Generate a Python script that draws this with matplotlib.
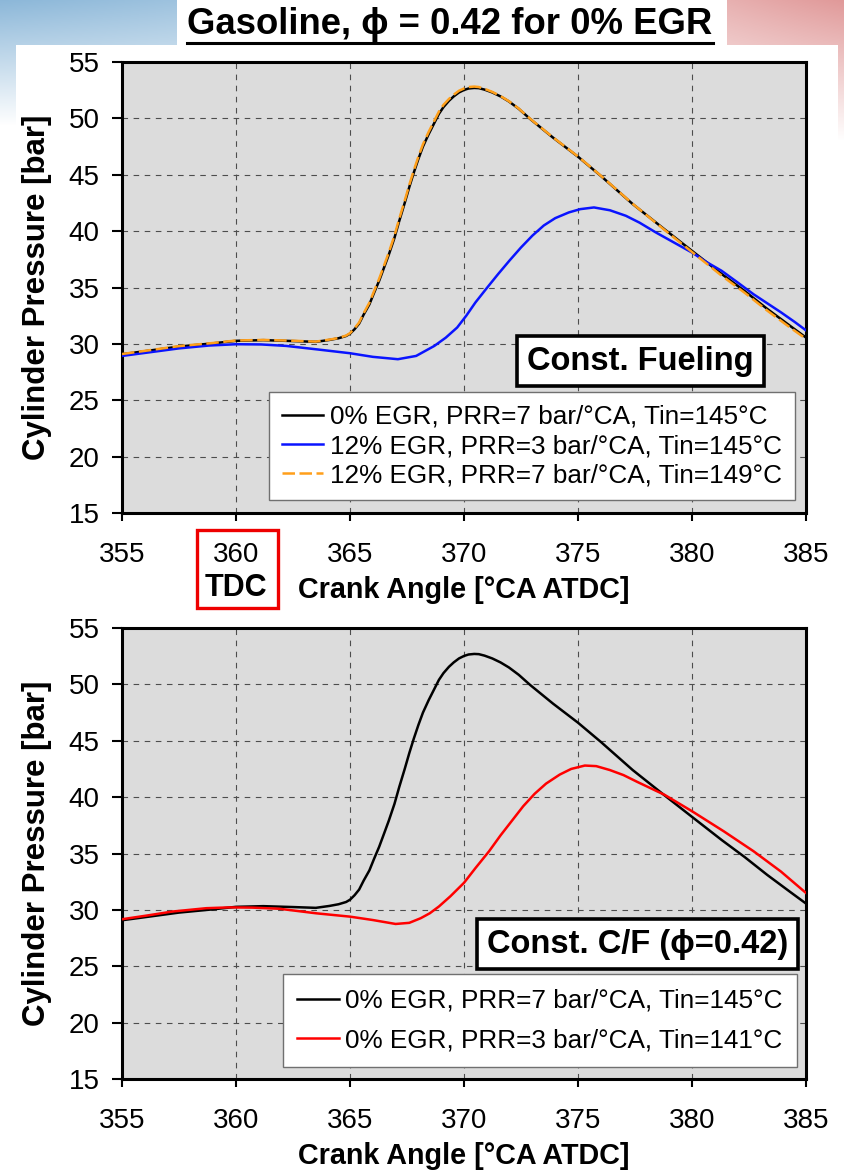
import numpy as np
import matplotlib
matplotlib.use('Agg')
import matplotlib.pyplot as plt
from matplotlib.patches import Rectangle
from matplotlib.lines import Line2D

plt.rcParams['font.family'] = ['Liberation Sans', 'DejaVu Sans']

# ---- data (crank angle [deg], pressure [bar]) ----
ca_base = [355.0, 356.0, 357.5, 359.0, 360.0, 361.2, 362.5, 363.5, 364.1, 364.5,
           364.83, 365.0, 365.2, 365.4, 365.6, 365.85, 366.05, 366.28, 366.5, 366.7,
           366.95, 367.16, 367.4, 367.6, 367.8, 368.0, 368.2, 368.45, 368.7, 368.9,
           369.1, 369.34, 369.55, 369.78, 370.0, 370.2, 370.45, 370.65, 370.9, 371.24,
           371.6, 371.97, 372.4, 372.9, 373.9, 375.0, 376.0, 377.4, 378.8, 380.0,
           381.3, 382.3, 383.3, 384.3, 385.0]
# 0% EGR, PRR=7, Tin=145
p_base = [29.08, 29.35, 29.76, 30.05, 30.27, 30.33, 30.25, 30.18, 30.35, 30.50,
          30.70, 30.90, 31.30, 31.80, 32.60, 33.50, 34.50, 35.60, 36.80, 37.90,
          39.40, 40.90, 42.50, 43.90, 45.20, 46.40, 47.50, 48.60, 49.60, 50.40,
          51.00, 51.56, 51.95, 52.30, 52.52, 52.65, 52.70, 52.68, 52.55, 52.30,
          51.95, 51.50, 50.85, 49.95, 48.30, 46.60, 44.90, 42.40, 40.15, 38.25,
          36.20, 34.70, 33.10, 31.60, 30.56]

# 12% EGR, PRR=7, Tin=149 (practically on top of the 0% EGR trace)
ca_egr7 = ca_base
p_egr7 = [29.10, 29.38, 29.80, 30.08, 30.30, 30.35, 30.28, 30.20, 30.38, 30.52,
          30.74, 30.95, 31.38, 31.90, 32.72, 33.65, 34.65, 35.78, 36.98, 38.10,
          39.60, 41.10, 42.70, 44.10, 45.40, 46.60, 47.70, 48.80, 49.80, 50.60,
          51.20, 51.72, 52.10, 52.45, 52.65, 52.78, 52.82, 52.78, 52.62, 52.35,
          51.98, 51.52, 50.87, 49.97, 48.32, 46.62, 44.92, 42.42, 40.10, 38.15,
          36.05, 34.55, 32.95, 31.45, 30.45]

# 12% EGR, PRR=3, Tin=145
ca_egr3 = [355.0, 356.2, 357.5, 358.8, 360.0, 361.1, 362.2, 363.6, 365.0, 366.0,
           367.1, 367.9, 368.7, 369.2, 369.7, 370.1, 370.5, 371.0, 371.5, 372.0,
           372.5, 373.0, 373.5, 374.0, 374.6, 375.1, 375.7, 376.4, 377.1, 377.7,
           378.4, 379.2, 380.0, 380.6, 381.3, 382.0, 382.7, 383.3, 383.9, 384.5,
           385.0]
p_egr3 = [28.93, 29.25, 29.60, 29.85, 29.97, 29.95, 29.82, 29.50, 29.17, 28.85,
          28.64, 28.93, 29.82, 30.55, 31.45, 32.50, 33.67, 34.95, 36.20, 37.40,
          38.55, 39.60, 40.50, 41.15, 41.66, 41.95, 42.10, 41.85, 41.36, 40.75,
          39.90, 39.00, 38.10, 37.30, 36.48, 35.45, 34.40, 33.60, 32.80, 31.95,
          31.20]

# 0% EGR, PRR=3, Tin=141
ca_tin141 = [355.0, 356.1, 357.2, 358.7, 359.7, 360.7, 361.9, 363.5, 365.0, 366.0,
             367.0, 367.6, 368.1, 368.5, 368.9, 369.4, 370.0, 370.5, 371.1, 371.6,
             372.1, 372.6, 373.1, 373.6, 374.2, 374.7, 375.3, 375.8, 376.4, 377.0,
             377.6, 378.8, 380.0, 381.4, 382.7, 383.9, 385.0]
p_tin141 = [29.17, 29.50, 29.85, 30.15, 30.22, 30.20, 30.10, 29.70, 29.40, 29.10,
            28.75, 28.85, 29.26, 29.70, 30.30, 31.20, 32.40, 33.70, 35.20, 36.60,
            37.90, 39.20, 40.30, 41.20, 42.00, 42.50, 42.80, 42.75, 42.40, 41.95,
            41.35, 40.20, 38.75, 36.96, 35.20, 33.40, 31.50]

top_labels = ['0% EGR, PRR=7 bar/°CA, Tin=145°C',
              '12% EGR, PRR=3 bar/°CA, Tin=145°C',
              '12% EGR, PRR=7 bar/°CA, Tin=149°C']
bottom_labels = ['0% EGR, PRR=7 bar/°CA, Tin=145°C',
                 '0% EGR, PRR=3 bar/°CA, Tin=141°C']
x_ticks = [355, 360, 365, 370, 375, 380, 385]
y_ticks = [15, 20, 25, 30, 35, 40, 45, 50, 55]

W, H = 844, 1170


def fx(px):
    return px / W


def fy(py):
    return 1 - py / H


fig = plt.figure(figsize=(W / 100, H / 100), dpi=100)
fig.patch.set_facecolor('white')

# slide background: blue top-left, red top-right, fading to white
bg_h = 140
yy, xx = np.mgrid[0:bg_h, 0:W]
wb = np.clip(1 - yy / 125.0, 0, 1) * np.clip(1 - xx / 520.0, 0, 1) ** 0.4
wr = np.clip(1 - yy / 140.0, 0, 1) * np.clip((xx - 560) / 284.0, 0, 1) ** 0.5
blue = np.array([0.55, 0.72, 0.85])
red = np.array([0.88, 0.60, 0.60])
img = (np.ones((bg_h, W, 3)) * (1 - wb - wr)[..., None]
       + blue * wb[..., None] + red * wr[..., None])
bg_ax = fig.add_axes([0, fy(bg_h), 1, bg_h / H], zorder=-10)
bg_ax.imshow(np.clip(img, 0, 1), aspect='auto', interpolation='bilinear')
bg_ax.axis('off')

# white panel + white title strip
fig.patches.append(Rectangle((fx(16), 0), fx(838 - 16), fy(45), transform=fig.transFigure,
                             facecolor='white', edgecolor='none', zorder=-5))
fig.patches.append(Rectangle((fx(177), fy(45)), fx(727 - 177), 45 / H, transform=fig.transFigure,
                             facecolor='white', edgecolor='none', zorder=-5))

# title with underline
fig.text(fx(450), fy(24), 'Gasoline, ϕ = 0.42 for 0% EGR', ha='center', va='center',
         fontsize=26.3, fontweight='bold')
fig.add_artist(Line2D([fx(187), fx(713)], [fy(43), fy(43)], transform=fig.transFigure,
                      color='black', linewidth=2.2))

ax_w = (806 - 122) / W
ax_h = (513 - 62) / H
ax1 = fig.add_axes([fx(122), fy(513), ax_w, ax_h])
ax2 = fig.add_axes([fx(122), fy(1079), ax_w, ax_h])


def style_axes(ax):
    ax.set_facecolor('#dcdcdc')
    ax.set_xlim(355, 385)
    ax.set_ylim(15, 55)
    ax.set_xticks(x_ticks)
    ax.set_yticks(y_ticks)
    ax.grid(True, color='#4d4d4d', linestyle=(0, (5, 5)), linewidth=0.8)
    ax.set_axisbelow(True)
    for s in ax.spines.values():
        s.set_linewidth(2.2)
        s.set_color('black')
    ax.tick_params(axis='x', direction='out', length=6, width=1.5, labelsize=20, pad=15)
    ax.tick_params(axis='y', direction='out', length=7, width=1.5, labelsize=20, pad=9)
    ax.set_ylabel('Cylinder Pressure [bar]', fontsize=22.5, fontweight='bold', labelpad=12)
    ax.set_xlabel('Crank Angle [°CA ATDC]', fontsize=20.7, fontweight='bold', labelpad=6)


def label_box(ax, x, y, text):
    ax.text(x, y, text, transform=ax.transAxes, ha='center', va='center',
            fontsize=23.5, fontweight='bold', zorder=6,
            bbox=dict(boxstyle='square,pad=0.3', facecolor='white',
                      edgecolor='black', linewidth=2.6))


# ---- top panel ----
style_axes(ax1)
ax1.plot(ca_base, p_base, color='black', linewidth=1.8, label=top_labels[0], zorder=3)
ax1.plot(ca_egr3, p_egr3, color='#0a14ff', linewidth=1.8, label=top_labels[1], zorder=3)
ax1.plot(ca_egr7, p_egr7, color='#ff9f1a', linewidth=1.8, linestyle=(0, (5, 1.8)),
         label=top_labels[2], zorder=4)
leg1 = ax1.legend(loc='lower right', bbox_to_anchor=(0.984, 0.028), fontsize=18.8,
                  frameon=True, fancybox=False, framealpha=1, edgecolor='#707070',
                  handlelength=1.6, handletextpad=0.25, borderpad=0.5, labelspacing=0.2,
                  borderaxespad=0)
leg1.get_frame().set_linewidth(1.0)
leg1.set_zorder(6)
label_box(ax1, 0.758, 0.337, 'Const. Fueling')

# TDC marker under the 360 tick
ax1.text(360, -0.167, 'TDC', transform=ax1.get_xaxis_transform(), ha='center', va='center',
         fontsize=22, fontweight='bold')
fig.patches.append(Rectangle((fx(197), fy(608)), fx(278 - 197), (608 - 530) / H,
                             transform=fig.transFigure, facecolor='none',
                             edgecolor='#ee0000', linewidth=2.4))

# ---- bottom panel ----
style_axes(ax2)
ax2.plot(ca_base, p_base, color='black', linewidth=1.8, label=bottom_labels[0], zorder=3)
ax2.plot(ca_tin141, p_tin141, color='#ff0000', linewidth=1.8, label=bottom_labels[1], zorder=3)
leg2 = ax2.legend(loc='lower right', bbox_to_anchor=(0.987, 0.027), fontsize=18.8,
                  frameon=True, fancybox=False, framealpha=1, edgecolor='#707070',
                  handlelength=1.6, handletextpad=0.25, borderpad=0.55, labelspacing=0.6,
                  borderaxespad=0)
leg2.get_frame().set_linewidth(1.0)
leg2.set_zorder(6)
label_box(ax2, 0.754, 0.299, 'Const. C/F (ϕ=0.42)')

fig.savefig('out.png', dpi=100, facecolor=fig.get_facecolor())
